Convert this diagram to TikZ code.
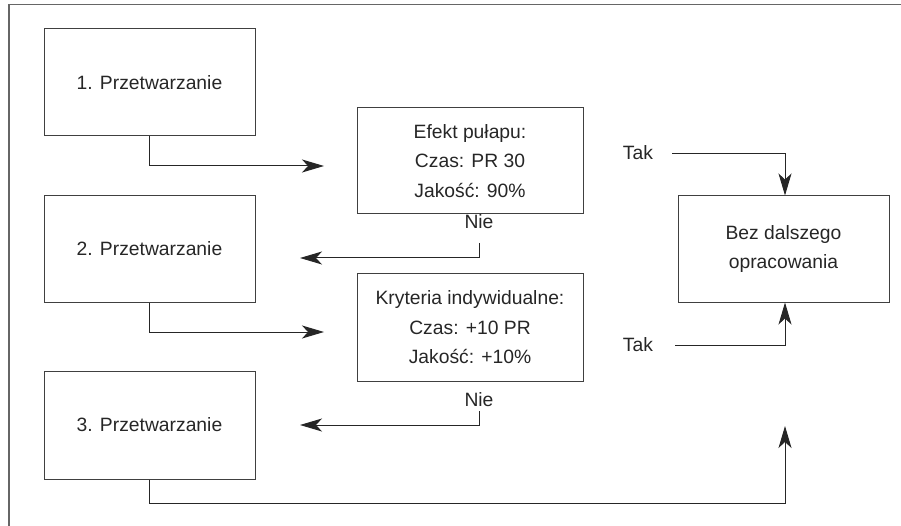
\documentclass[tikz,border=0pt]{standalone}
\usepackage{fontspec}
\setmainfont{Liberation Sans}
\usetikzlibrary{arrows.meta}
\begin{document}
\begin{tikzpicture}[x=1pt,y=-1pt,
  every node/.style={font=\fontsize{19.3}{29.5}\selectfont, text=black!85},
  box/.style={draw=black!75, line width=1pt, rectangle, align=center, inner sep=0pt},
  lbl/.style={inner sep=0pt},
  arr/.style={draw=black!85, line width=1pt, -{Stealth[length=22pt,width=13pt,inset=6pt]}},
  frame/.style={draw=black!60, line width=1.6pt}]
\useasboundingbox (0,0) rectangle (901,526);
\draw[frame] (9,526) -- (9,4.5) -- (901,4.5);

\node[box, minimum width=211pt, minimum height=107pt] (b1) at (149.5,82.5) {1. Przetwarzanie};
\node[box, minimum width=211pt, minimum height=106pt] (b2) at (149.5,249) {2. Przetwarzanie};
\node[box, minimum width=211pt, minimum height=108pt] (b3) at (149.5,425) {3. Przetwarzanie};
\node[box, minimum width=226pt, minimum height=106pt] (ef) at (470,161) {Efekt pułapu:\\Czas: PR 30\\Jakość: 90\%};
\node[box, minimum width=226pt, minimum height=107pt] (kr) at (470,327.5) {Kryteria indywidualne:\\Czas: +10 PR\\Jakość: +10\%};
\node[box, minimum width=211pt, minimum height=106pt] (bez) at (783.5,249) {Bez dalszego\\opracowania};

\node[lbl] (t1) at (638,153) {Tak};
\node[lbl] (t2) at (638,345) {Tak};
\node[lbl] (n1) at (479,222) {Nie};
\node[lbl] (n2) at (479,400) {Nie};

\coordinate (c1) at (324,166);
\coordinate (c2) at (300,258);
\coordinate (c3) at (324,332);
\coordinate (c4) at (300,425);
\coordinate (c5) at (785,503);
\coordinate (c6) at (785,426);
\coordinate (t1s) at (672,154);
\coordinate (t2s) at (675,345);
\coordinate (n1s) at (479,243);
\coordinate (n2s) at (479,411);

\draw[arr] (b1.south) |- (c1);
\draw[arr] (b2.south) |- (c3);
\draw[arr] (n1s) |- (c2);
\draw[arr] (n2s) |- (c4);
\draw[arr] (b3.south) |- (c5) -- (c6);
\draw[arr] (t1s) -| ([xshift=1.5pt]bez.north);
\draw[arr] (t2s) -| ([xshift=1.5pt]bez.south);
\end{tikzpicture}
\end{document}
